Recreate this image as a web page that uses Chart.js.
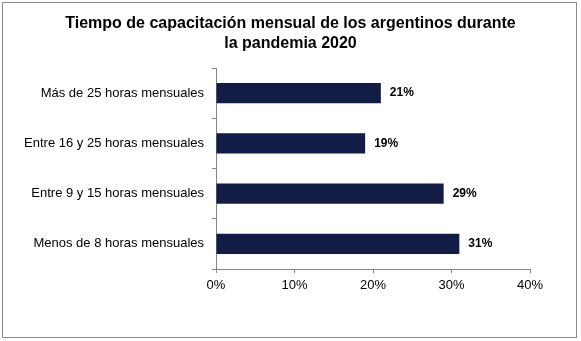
<!DOCTYPE html>
<html>
<head>
<meta charset="utf-8">
<script src="https://cdn.jsdelivr.net/npm/chart.js@4"></script>
<style>
  html, body { margin: 0; padding: 0; background: #fff; }
  #wrap { width: 581px; height: 341px; position: relative; }
</style>
</head>
<body>
<div id="wrap"><canvas id="barChart" width="581" height="341"></canvas></div>
<script>
const categories = [
    'Más de 25 horas mensuales',
    'Entre 16 y 25 horas mensuales',
    'Entre 9 y 15 horas mensuales',
    'Menos de 8 horas mensuales'
];
const shares = [21, 19, 29, 31];
const titleLines = ['Tiempo de capacitación mensual de los argentinos durante', 'la pandemia 2020'];

const FONT = "'Liberation Sans', Arial, sans-serif";

// outer frame like the original picture
const framePlugin = {
    id: 'frame',
    beforeDraw(chart) {
        const ctx = chart.ctx;
        ctx.save();
        ctx.fillStyle = '#fff';
        ctx.fillRect(0, 0, chart.width, chart.height);
        ctx.strokeStyle = '#8a8a8a';
        ctx.lineWidth = 1;
        ctx.strokeRect(2.5, 2.5, 574, 335);
        ctx.restore();
    }
};

// bold value labels at the end of each bar
const valueLabels = {
    id: 'valueLabels',
    afterDatasetsDraw(chart) {
        const ctx = chart.ctx;
        const meta = chart.getDatasetMeta(0);
        ctx.save();
        ctx.font = 'bold 12px ' + FONT;
        ctx.fillStyle = '#000';
        ctx.textAlign = 'left';
        ctx.textBaseline = 'middle';
        meta.data.forEach((bar, i) => {
            ctx.fillText(shares[i] + '%', bar.x + 9, bar.y);
        });
        ctx.restore();
    }
};

const barCtx = document.getElementById('barChart').getContext('2d');
const barChart = new Chart(barCtx, {
    type: 'bar',
    data: {
        labels: categories,
        datasets: [{
            data: shares,
            backgroundColor: '#131c45',
            barPercentage: 0.8,
            categoryPercentage: 0.5
        }]
    },
    options: {
        indexAxis: 'y',
        responsive: false,
        animation: false,
        layout: {
            padding: 0
        },
        scales: {
            x: {
                min: 0,
                max: 40,
                ticks: {
                    stepSize: 10,
                    color: '#000',
                    padding: 5,
                    font: { family: FONT, size: 13 },
                    callback: v => v + '%'
                },
                grid: {
                    drawOnChartArea: false,
                    drawTicks: true,
                    tickLength: 4,
                    color: '#868686'
                },
                border: { color: '#868686' },
                afterFit(scale) {
                    scale.height = 72;
                    scale.paddingRight = 51;
                }
            },
            y: {
                ticks: {
                    color: '#000',
                    padding: 8,
                    font: { family: FONT, size: 13 }
                },
                grid: {
                    offset: true,
                    drawOnChartArea: false,
                    drawTicks: true,
                    tickLength: 4,
                    color: '#868686'
                },
                border: { color: '#868686' },
                afterFit(scale) { scale.width = 216; }
            }
        },
        plugins: {
            legend: { display: false },
            tooltip: { enabled: false },
            title: {
                display: true,
                text: titleLines,
                color: '#000',
                font: { family: FONT, size: 16, weight: 'bold', lineHeight: 1.25 },
                padding: { top: 14, bottom: 14 }
            }
        }
    },
    plugins: [framePlugin, valueLabels]
});
</script>
</body>
</html>
